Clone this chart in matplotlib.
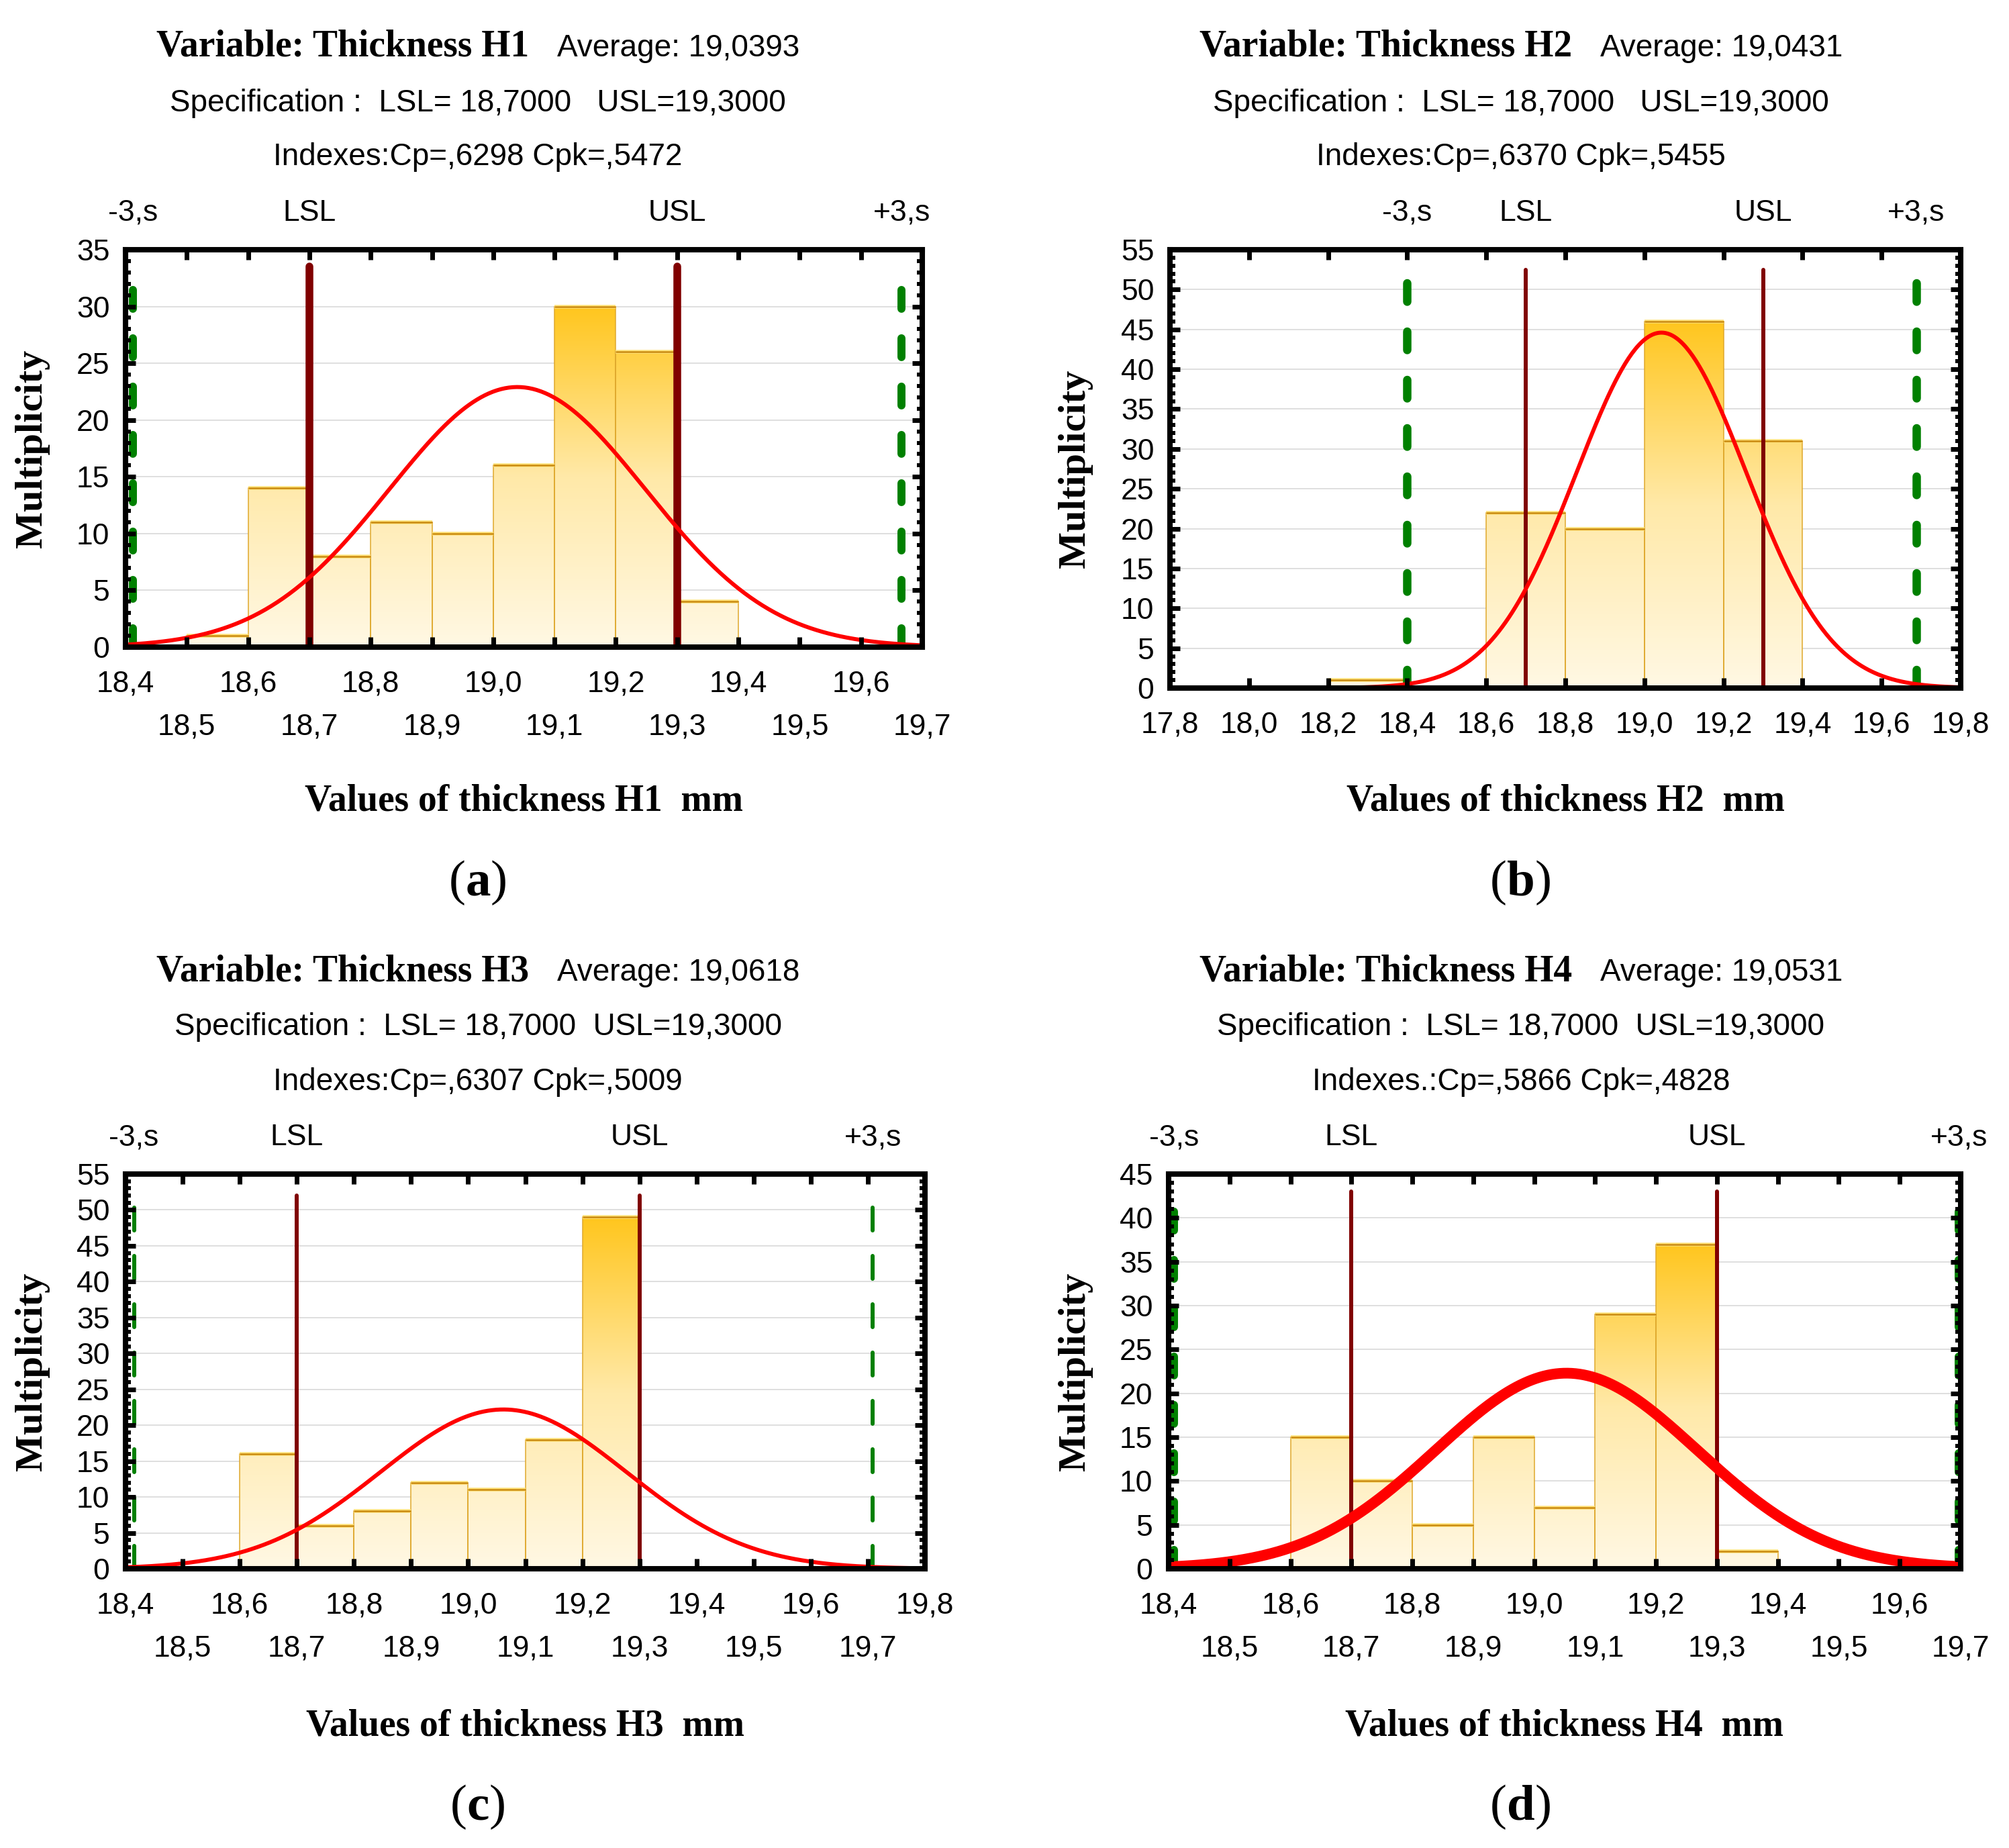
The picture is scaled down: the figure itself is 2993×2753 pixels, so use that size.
import numpy as np
import matplotlib
matplotlib.use("Agg")
import matplotlib.pyplot as plt
from matplotlib.patches import PathPatch
from matplotlib.path import Path
from matplotlib.colors import LinearSegmentedColormap
from matplotlib.ticker import MultipleLocator, FixedLocator, FuncFormatter
from matplotlib.transforms import blended_transform_factory

plt.rcParams['lines.scale_dashes'] = False
plt.rcParams['font.family'] = ['Liberation Sans', 'DejaVu Sans']
SANS = ['Liberation Sans', 'DejaVu Sans']
SERIF = ['Liberation Serif', 'DejaVu Serif']

# ---- data ----
names = ["H1", "H2", "H3", "H4"]
letters = ["a", "b", "c", "d"]
averages = [19.0393, 19.0431, 19.0618, 19.0531]
sigmas = [0.209, 0.2147, 0.2157, 0.2147]
lsl, usl = 18.7, 19.3
cp_vals = [",6298", ",6370", ",6307", ",5866"]
cpk_vals = [",5472", ",5455", ",5009", ",4828"]

bin_width = [0.1, 0.2, 0.1, 0.1]
bins_h1 = [18.5, 18.6, 18.7, 18.8, 18.9, 19.0, 19.1, 19.2, 19.3]
counts_h1 = [1, 14, 8, 11, 10, 16, 30, 26, 4]
bins_h2 = [18.2, 18.4, 18.6, 18.8, 19.0, 19.2]
counts_h2 = [1, 0, 22, 20, 46, 31]
bins_h3 = [18.6, 18.7, 18.8, 18.9, 19.0, 19.1, 19.2]
counts_h3 = [16, 6, 8, 12, 11, 18, 49]
bins_h4 = [18.6, 18.7, 18.8, 18.9, 19.0, 19.1, 19.2, 19.3]
counts_h4 = [15, 10, 5, 15, 7, 29, 37, 2]
bins = [bins_h1, bins_h2, bins_h3, bins_h4]
counts = [counts_h1, counts_h2, counts_h3, counts_h4]

xlims = [(18.4, 19.7), (17.8, 19.8), (18.4, 19.8), (18.4, 19.7)]
ymax = [35, 55, 55, 45]

# ---- per panel styling ----
W, H = 2993, 2753
rects = [
    [187 / W, 1 - 964 / H, 1187 / W, 592 / H],
    [1743 / W, 1 - 1025 / H, 1178 / W, 653 / H],
    [187 / W, 1 - 2337 / H, 1191 / W, 588 / H],
    [1741 / W, 1 - 2337 / H, 1180 / W, 588 / H],
]
spec_top = [33.5, 52.5, 52, 43]
spec_lw = [8.3, 4.3, 4.3, 4.3]
sig_lw = [8.6, 9.0, 4.3, 8.6]
curve_lw = [4.3, 4.3, 4.3, 11.5]
two_rows = [True, False, True, True]
spec_gap = ["   ", "   ", "  ", "  "]
idx_prefix = ["Indexes:", "Indexes:", "Indexes:", "Indexes.:"]
title_cx = [712 / W, 2266 / W, 712 / W, 2266 / W]
ylab_x = [0.016, 0.5352, 0.016, 0.5352]
row_shift = [0, 0, 1377 / H, 1377 / H]

bar_cmap = LinearSegmentedColormap.from_list("bar", ["#FFF8E4", "#FFE9A8", "#FFC61E"])
comma = FuncFormatter(lambda v, p: f"{v:.1f}".replace(".", ","))

fig = plt.figure(figsize=(W / 100, H / 100), dpi=100)
renderer = fig.canvas.get_renderer()


def centered_pieces(cx, y, pieces, gap_px=0):
    arts = []
    for txt, kw in pieces:
        arts.append(fig.text(0, y, txt, ha="left", va="baseline", **kw))
    widths = [a.get_window_extent(renderer).width / fig.bbox.width for a in arts]
    gap = gap_px / fig.bbox.width
    total = sum(widths) + gap * (len(arts) - 1)
    x = cx - total / 2
    for a, w in zip(arts, widths):
        a.set_x(x)
        x += w + gap


for i in range(4):
    ax = fig.add_axes(rects[i])
    x0, x1 = xlims[i]
    lefts = np.array(bins[i])
    hts = np.array(counts[i], dtype=float)
    w = bin_width[i]
    m, s = averages[i], sigmas[i]
    n = hts.sum()

    # horizontal grid
    for yv in range(5, ymax[i], 5):
        ax.axhline(yv, color="#d6d6d6", lw=1.1, zorder=0.5)

    # gradient bars
    keep = hts > 0
    paths = [Path([(l, 0), (l + w, 0), (l + w, h), (l, h), (l, 0)], closed=True)
             for l, h in zip(lefts[keep], hts[keep])]
    clip = PathPatch(Path.make_compound_path(*paths), transform=ax.transData,
                     facecolor="none", edgecolor="none")
    ax.add_patch(clip)
    grad = np.linspace(0, 1, 256).reshape(-1, 1)
    im = ax.imshow(grad, extent=(lefts.min(), lefts.max() + w, 0, hts.max()),
                   origin="lower", cmap=bar_cmap, aspect="auto", zorder=1.5,
                   interpolation="bilinear")
    im.set_clip_path(clip)
    ax.bar(lefts[keep], hts[keep], width=w, align="edge", fill=False,
           edgecolor="#DFA82C", linewidth=1.1, zorder=2)
    ax.hlines(hts[keep], lefts[keep], lefts[keep] + w, color="#FFE27A", lw=4, zorder=2.1)
    ax.hlines(hts[keep], lefts[keep], lefts[keep] + w, color="#C98A10", lw=1.8, zorder=2.2)

    # spec limits and +-3 sigma
    for xv in (lsl, usl):
        ax.plot([xv, xv], [0, spec_top[i]], color="#800000", lw=spec_lw[i],
                solid_capstyle="round", zorder=3)
    for xv in (m - 3 * s, m + 3 * s):
        lw = sig_lw[i]
        ax.plot([xv, xv], [0, spec_top[i]], color="#008000", lw=lw,
                linestyle=(0, ((40 - lw / 0.72) * 0.72, (32 + lw / 0.72) * 0.72)),
                dash_capstyle="round", zorder=3)

    # fitted normal curve
    xs = np.linspace(max(x0, m - 4.2 * s), x1, 400)
    ys = n * w / (s * np.sqrt(2 * np.pi)) * np.exp(-0.5 * ((xs - m) / s) ** 2)
    ax.plot(xs, ys, color="#ff0000", lw=curve_lw[i], zorder=4,
            solid_capstyle="round")

    ax.set_xlim(x0, x1)
    ax.set_ylim(0, ymax[i])

    # ticks
    if two_rows[i]:
        major = np.round(np.arange(x0, x1 + 1e-6, 0.2), 1)
        minor = np.round(np.arange(x0 + 0.1, x1 + 1e-6, 0.2), 1)
        ax.xaxis.set_major_locator(FixedLocator(major))
        ax.xaxis.set_minor_locator(FixedLocator(minor))
        ax.xaxis.set_minor_formatter(comma)
        ax.tick_params(axis="x", which="minor", direction="in", length=10.8,
                       width=5, top=True, labelsize=32, pad=71)
    else:
        ax.xaxis.set_major_locator(MultipleLocator(0.2))
    ax.xaxis.set_major_formatter(comma)
    ax.tick_params(axis="x", which="major", direction="in", length=10.8,
                   width=5, top=True, labelsize=32, pad=25)
    ax.yaxis.set_major_locator(MultipleLocator(5))
    ax.yaxis.set_minor_locator(MultipleLocator(1))
    ax.tick_params(axis="y", which="major", direction="in", length=10.8,
                   width=5, right=True, labelsize=32, pad=17)
    ax.tick_params(axis="y", which="minor", direction="in", length=5.8,
                   width=4.3, right=True)
    ax.xaxis.set_zorder(5)
    ax.yaxis.set_zorder(5)
    for sp in ax.spines.values():
        sp.set_linewidth(5.8)
        sp.set_zorder(6)

    # labels above the frame
    tr = blended_transform_factory(ax.transData, fig.transFigure)
    ytop = 329 / H
    ytop = 1 - ytop - row_shift[i]
    for xv, lab in ((m - 3 * s, "-3,s"), (lsl, "LSL"), (usl, "USL"), (m + 3 * s, "+3,s")):
        ax.text(xv, ytop, lab, transform=tr, ha="center", va="baseline",
                fontsize=32, fontfamily=SANS)

    # title block
    sh = row_shift[i]
    centered_pieces(title_cx[i], 1 - 84 / H - sh, [
        (f"Variable: Thickness {names[i]}", dict(fontfamily=SERIF, fontweight="bold", fontsize=40)),
        (f"Average: {averages[i]:.4f}".replace(".", ","), dict(fontfamily=SANS, fontsize=33)),
    ], gap_px=42)
    centered_pieces(title_cx[i], 1 - 165.5 / H - sh, [
        (f"Specification :  LSL= 18,7000{spec_gap[i]}USL=19,3000", dict(fontfamily=SANS, fontsize=33)),
    ])
    centered_pieces(title_cx[i], 1 - 246.5 / H - sh, [
        (f"{idx_prefix[i]}Cp={cp_vals[i]} Cpk={cpk_vals[i]}", dict(fontfamily=SANS, fontsize=33)),
    ])

    # axis titles
    axcx = rects[i][0] + rects[i][2] / 2
    fig.text(axcx, 1 - 1208 / H - sh, f"Values of thickness {names[i]}  mm",
             ha="center", va="baseline", fontfamily=SERIF, fontweight="bold", fontsize=40)
    fig.text(ylab_x[i], rects[i][1] + rects[i][3] / 2, "Multiplicity", rotation=90,
             ha="center", va="center", fontfamily=SERIF, fontweight="bold", fontsize=42)
    centered_pieces(title_cx[i], 1 - 1333 / H - sh, [
        ("(", dict(fontfamily=SERIF, fontsize=54)),
        (letters[i], dict(fontfamily=SERIF, fontweight="bold", fontsize=54)),
        (")", dict(fontfamily=SERIF, fontsize=54)),
    ])

fig.savefig("out.png", dpi=100, facecolor="white")
